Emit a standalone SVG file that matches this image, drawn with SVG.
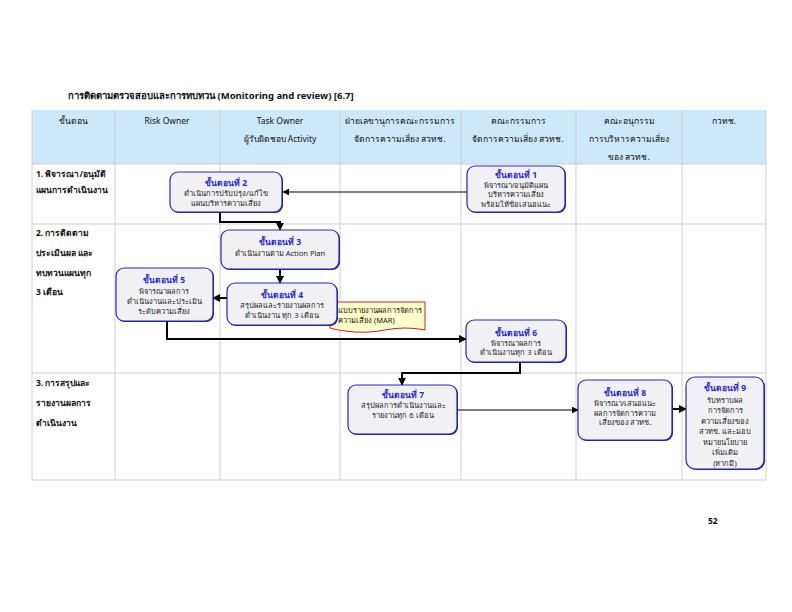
<svg xmlns="http://www.w3.org/2000/svg" width="792" height="612" viewBox="0 0 792 612">
<style>
text{font-family:"Noto Sans","DejaVu Sans","Liberation Sans",sans-serif;fill:#111}
.hd{font-size:8.5px;text-anchor:middle}
.rl{font-size:8.5px;font-weight:bold}
.nt{font-size:8.5px;font-weight:bold;fill:#2a2ad0;text-anchor:middle}
.nb{font-size:7.5px;text-anchor:middle;fill:#222}
.grid line{stroke:#cfcfcf;stroke-width:1}
.box{fill:#f1f1f4;stroke:#2626c0;stroke-width:1.2}
.shd{fill:#1c1c9a}
.c{fill:none;stroke:#000}
.th{stroke-width:2}
.tn{stroke-width:1}
</style>
<defs>
<marker id="ah" viewBox="0 0 10 10" refX="9" refY="5" markerWidth="4" markerHeight="4" orient="auto" markerUnits="strokeWidth">
<path d="M0,0 L10,5 L0,10 z" fill="#000"/>
</marker>
<marker id="ahs" viewBox="0 0 10 10" refX="9" refY="5" markerWidth="7" markerHeight="7" orient="auto" markerUnits="strokeWidth">
<path d="M0,0 L10,5 L0,10 z" fill="#000"/>
</marker>
</defs>
<rect width="792" height="612" fill="#fff"/>
<text x="68" y="99" style="font-size:9.5px;font-weight:bold">การติดตามตรวจสอบและการทบทวน (Monitoring and review) [6.7]</text>
<rect x="32" y="110" width="734" height="54" fill="#cce8fb"/>
<g class="grid">
<line x1="32" y1="164" x2="766" y2="164"/>
<line x1="32" y1="224" x2="766" y2="224"/>
<line x1="32" y1="373" x2="766" y2="373"/>
<line x1="32" y1="480" x2="766" y2="480"/>
<line x1="32" y1="110" x2="32" y2="480"/>
<line x1="115" y1="110" x2="115" y2="480"/>
<line x1="220" y1="110" x2="220" y2="480"/>
<line x1="340" y1="110" x2="340" y2="480"/>
<line x1="461" y1="110" x2="461" y2="480"/>
<line x1="576" y1="110" x2="576" y2="480"/>
<line x1="682" y1="110" x2="682" y2="480"/>
<line x1="766" y1="110" x2="766" y2="480"/>
</g>
<g id="header">
<text class="hd" x="73" y="124">ขั้นตอน</text>
<text class="hd" x="167" y="124">Risk Owner</text>
<text class="hd" x="280" y="124">Task Owner</text>
<text class="hd" x="280" y="142">ผู้รับผิดชอบ Activity</text>
<text class="hd" x="400" y="124">ฝ่ายเลขานุการคณะกรรมการ</text>
<text class="hd" x="400" y="142">จัดการความเสี่ยง สวทช.</text>
<text class="hd" x="518" y="124">คณะกรรมการ</text>
<text class="hd" x="518" y="142">จัดการความเสี่ยง สวทช.</text>
<text class="hd" x="629" y="124">คณะอนุกรรม</text>
<text class="hd" x="629" y="142">การบริหารความเสี่ยง</text>
<text class="hd" x="629" y="160">ของ สวทช.</text>
<text class="hd" x="724" y="124">กวทช.</text>
</g>
<g id="rows">
<text class="rl" x="36" y="177">1. พิจารณา/อนุมัติ</text>
<text class="rl" x="36" y="193">แผนการดำเนินงาน</text>
<text class="rl" x="36" y="236">2. การติดตาม</text>
<text class="rl" x="36" y="256">ประเมินผล และ</text>
<text class="rl" x="36" y="276">ทบทวนแผนทุก</text>
<text class="rl" x="36" y="295">3 เดือน</text>
<text class="rl" x="36" y="386">3. การสรุปและ</text>
<text class="rl" x="36" y="406">รายงานผลการ</text>
<text class="rl" x="36" y="426">ดำเนินงาน</text>
</g>
<g id="connectors">
<path class="c tn" d="M467,192 H283" marker-end="url(#ahs)"/>
<path class="c th" d="M220,212 V222 H280 V230" marker-end="url(#ah)"/>
<path class="c th" d="M280,270 V283" marker-end="url(#ah)"/>
<path class="c th" d="M227,298 H213" marker-end="url(#ah)"/>
<path class="c th" d="M167,322 V339 H466" marker-end="url(#ah)"/>
<path class="c th" d="M520,362 V373 H402 V385" marker-end="url(#ah)"/>
<path class="c tn" d="M458,410 H578" marker-end="url(#ahs)"/>
<path class="c th" d="M673,409 H686" marker-end="url(#ah)"/>
</g>
<g id="note">
<path d="M330,302 H425 V330 Q405,326 385,330 T345,331 Q337,330 330,328 Z" fill="#ffffcc" stroke="#cc2222" stroke-width="1"/>
<text x="338" y="313" style="font-size:7.5px">แบบรายงานผลการจัดการ</text>
<text x="338" y="323" style="font-size:7.5px">ความเสี่ยง (MAR)</text>
</g>
<g id="n1">
<rect class="shd" x="468" y="167" width="98" height="46" rx="8"/>
<rect class="box" x="467" y="166" width="98" height="46" rx="8"/>
<text class="nt" x="516" y="178">ขั้นตอนที่ 1</text>
<text class="nb" x="516" y="188">พิจารณา/อนุมัติแผน</text>
<text class="nb" x="516" y="197">บริหารความเสี่ยง</text>
<text class="nb" x="516" y="207">พร้อมให้ข้อเสนอแนะ</text>
</g>
<g id="n2">
<rect class="shd" x="171" y="173" width="112" height="40" rx="8"/>
<rect class="box" x="170" y="172" width="112" height="40" rx="8"/>
<text class="nt" x="226" y="186">ขั้นตอนที่ 2</text>
<text class="nb" x="226" y="196">ดำเนินการปรับปรุง/แก้ไข</text>
<text class="nb" x="226" y="206">แผนบริหารความเสี่ยง</text>
</g>
<g id="n3">
<rect class="shd" x="222" y="231" width="118" height="39" rx="8"/>
<rect class="box" x="221" y="230" width="118" height="39" rx="8"/>
<text class="nt" x="280" y="245">ขั้นตอนที่ 3</text>
<text class="nb" x="280" y="256">ดำเนินงานตาม Action Plan</text>
</g>
<g id="n4">
<rect class="shd" x="228" y="284" width="110" height="42" rx="8"/>
<rect class="box" x="227" y="283" width="110" height="42" rx="8"/>
<text class="nt" x="282" y="298">ขั้นตอนที่ 4</text>
<text class="nb" x="282" y="308">สรุปผลและรายงานผลการ</text>
<text class="nb" x="282" y="318">ดำเนินงาน ทุก 3 เดือน</text>
</g>
<g id="n5">
<rect class="shd" x="117" y="269" width="97" height="53" rx="8"/>
<rect class="box" x="116" y="268" width="97" height="53" rx="8"/>
<text class="nt" x="164" y="283">ขั้นตอนที่ 5</text>
<text class="nb" x="164" y="294">พิจารณาผลการ</text>
<text class="nb" x="164" y="304">ดำเนินงานและประเมิน</text>
<text class="nb" x="164" y="314">ระดับความเสี่ยง</text>
</g>
<g id="n6">
<rect class="shd" x="467" y="321" width="100" height="42" rx="8"/>
<rect class="box" x="466" y="320" width="100" height="42" rx="8"/>
<text class="nt" x="516" y="336">ขั้นตอนที่ 6</text>
<text class="nb" x="516" y="346">พิจารณาผลการ</text>
<text class="nb" x="516" y="355">ดำเนินงานทุก 3 เดือน</text>
</g>
<g id="n7">
<rect class="shd" x="349" y="386" width="109" height="49" rx="8"/>
<rect class="box" x="348" y="385" width="109" height="49" rx="8"/>
<text class="nt" x="403" y="398">ขั้นตอนที่ 7</text>
<text class="nb" x="403" y="408">สรุปผลการดำเนินงานและ</text>
<text class="nb" x="403" y="418">รายงานทุก 6 เดือน</text>
</g>
<g id="n8">
<rect class="shd" x="579" y="381" width="94" height="60" rx="8"/>
<rect class="box" x="578" y="380" width="94" height="60" rx="8"/>
<text class="nt" x="625" y="396">ขั้นตอนที่ 8</text>
<text class="nb" x="625" y="406">พิจารณา/เสนอแนะ</text>
<text class="nb" x="625" y="416">ผลการจัดการความ</text>
<text class="nb" x="625" y="425">เสี่ยงของ สวทช.</text>
</g>
<g id="n9">
<rect class="shd" x="687" y="378" width="78" height="92" rx="9"/>
<rect class="box" x="686" y="377" width="78" height="92" rx="9"/>
<text class="nt" x="725" y="391">ขั้นตอนที่ 9</text>
<text class="nb" x="725" y="403">รับทราบผล</text>
<text class="nb" x="725" y="413">การจัดการ</text>
<text class="nb" x="725" y="424">ความเสี่ยงของ</text>
<text class="nb" x="725" y="434">สวทช. และมอบ</text>
<text class="nb" x="725" y="445">หมายนโยบาย</text>
<text class="nb" x="725" y="455">เพิ่มเติม</text>
<text class="nb" x="725" y="466">(หากมี)</text>
</g>
<text x="708" y="524" style="font-size:8.5px;font-weight:bold">52</text>
</svg>
